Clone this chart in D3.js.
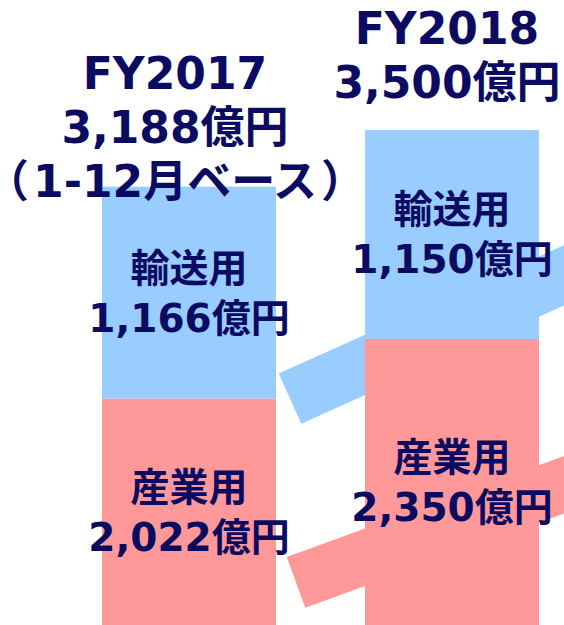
<!DOCTYPE html>
<html>
<head>
<meta charset="utf-8">
<script src="https://cdn.jsdelivr.net/npm/d3@7/dist/d3.min.js"></script>
<style>
  html, body { margin: 0; padding: 0; background: #fff; }
  svg { display: block; }
  text { font-family: "DejaVu Sans", "Noto Sans CJK JP", sans-serif; font-weight: 700; fill: #0b0b62; }
  .palt { font-feature-settings: "palt" 1; }
</style>
</head>
<body>
<svg id="chart" width="564" height="625"></svg>
<script>
// ---- data ----
const years = ["FY2017", "FY2018"];
const totalLabels = ["3,188億円", "3,500億円"];
const yearNotes = ["（1-12月ベース）", ""];
const segments = ["産業用", "輸送用"];
const industrial = [2022, 2350];
const transport = [1166, 1150];
const valueLabelsIndustrial = ["2,022億円", "2,350億円"];
const valueLabelsTransport = ["1,166億円", "1,150億円"];

// ---- layout ----
const W = 564, H = 625;
const colors = { "産業用": "#ff9999", "輸送用": "#99ccff" };
const barWidth = 174;
const svg = d3.select("#chart");

const x = d3.scalePoint().domain(years).range([189, 452]);
const y = d3.scaleLinear().domain([0, 3500]).range([766, 130]);

const rows = years.map((yr, i) => ({
  year: yr,
  i,
  parts: [
    { key: segments[0], y0: 0, y1: industrial[i], label: valueLabelsIndustrial[i] },
    { key: segments[1], y0: industrial[i], y1: industrial[i] + transport[i], label: valueLabelsTransport[i] }
  ]
}));

// ---- connector bands (drawn behind the second bar) ----
const gBands = svg.append("g");
function band(x0, y0, angleDeg, thickness, color) {
  const a = angleDeg * Math.PI / 180;
  const len = 600;
  gBands.append("line")
    .attr("x1", x0).attr("y1", y0)
    .attr("x2", x0 + len * Math.cos(a)).attr("y2", y0 - len * Math.sin(a))
    .attr("stroke", color).attr("stroke-width", thickness)
    .attr("stroke-linecap", "butt");
}
const bar1Right = x(years[0]) + barWidth / 2;
band(bar1Right + 14, y(industrial[0]), 24.2, 55, colors["輸送用"]);
band(bar1Right + 20, y(industrial[0] / 2), 20.0, 54, colors["産業用"]);

// ---- bars ----
const gBars = svg.append("g");
rows.forEach(r => {
  gBars.selectAll(null).data(r.parts).enter().append("rect")
    .attr("x", x(r.year) - barWidth / 2)
    .attr("width", barWidth)
    .attr("y", d => y(d.y1))
    .attr("height", d => y(d.y0) - y(d.y1))
    .attr("fill", d => colors[d.key]);
});

// ---- in-bar labels ----
const lineGap = 50;
rows.forEach(r => {
  r.parts.forEach(p => {
    const top = y(p.y1), bot = Math.min(y(p.y0), H);
    const mid = (top + bot) / 2;
    const g = svg.append("g");
    g.append("text").attr("x", x(r.year)).attr("y", mid - lineGap / 2 + 14)
      .attr("text-anchor", "middle")
      .attr("font-size", 39).text(p.key);
    g.append("text").attr("x", x(r.year)).attr("y", mid + lineGap / 2 + 14)
      .attr("text-anchor", "middle")
      .attr("font-size", 39).text(p.label);
  });
});

// ---- header labels ----
const headerX = [175, 447];
const headerBase = [89, 44];
const headerGap = 54;
years.forEach((yr, i) => {
  const lines = [yr, totalLabels[i], yearNotes[i]].filter(s => s);
  lines.forEach((s, k) => {
    const t = svg.append("text").attr("x", headerX[i]).attr("y", headerBase[i] + k * headerGap)
      .attr("text-anchor", "middle").attr("font-size", 44);
    if (k === 2) {
      // full-width brackets set proportionally so the line fits the canvas
      const open = s.slice(0, 1), inner = s.slice(1, -1), close = s.slice(-1);
      t.append("tspan").attr("class", "palt").text(open);
      t.append("tspan").attr("dx", 6).text(inner);
      t.append("tspan").attr("class", "palt").attr("dx", 6).text(close);
    } else {
      t.text(s);
    }
  });
});
</script>
</body>
</html>
